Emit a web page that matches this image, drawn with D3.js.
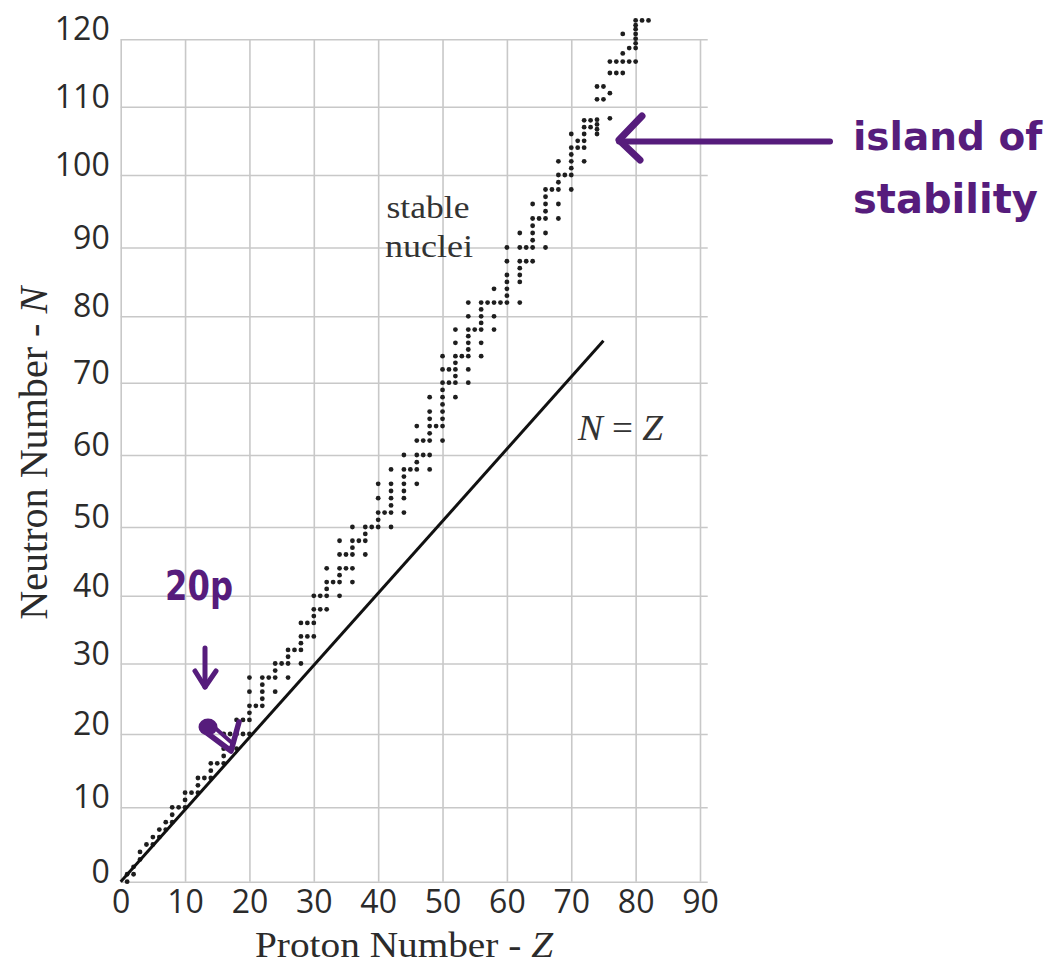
<!DOCTYPE html>
<html>
<head>
<meta charset="utf-8">
<script src="https://cdn.jsdelivr.net/npm/d3@7"></script>
<style>
html,body{margin:0;padding:0;background:#fff;}
svg{display:block;}
</style>
</head>
<body>
<svg id="chart" width="1053" height="964"></svg>
<script>
// ---------------- DATA ----------------
const xTicks = [0, 10, 20, 30, 40, 50, 60, 70, 80, 90];
const yTicks = [0, 10, 20, 30, 40, 50, 60, 70, 80, 90, 100, 110, 120];

// proton number of each element with stable nuclei
const elementZ = [1,2,3,4,5,6,7,8,9,10,11,12,13,14,15,16,17,18,19,20,
  21,22,23,24,25,26,27,28,29,30,31,32,33,34,35,36,37,38,39,40,
  41,42,44,45,46,47,48,49,50,51,52,53,54,55,56,57,58,59,60,62,
  63,64,65,66,67,68,69,70,71,72,73,74,75,76,77,78,79,80,81,82];

// neutron numbers of the stable nuclei of each element
const isotopeN = [
  [0,1],[1,2],[3,4],[5],[5,6],[6,7],[7,8],[8,9,10],[10],[10,11,12],
  [12],[12,13,14],[14],[14,15,16],[16],[16,17,18,20],[18,20],[18,20,22],[20,22],[20,22,23,24,26,28],
  [24],[24,25,26,27,28],[28],[26,28,29,30],[30],[28,30,31,32],[32],[30,32,33,34,36],[34,36],[34,36,37,38,40],
  [38,40],[38,40,41,42,44],[42],[40,42,43,44,46,48],[44,46],[42,44,46,47,48,50],[48],[46,48,49,50],[50],[50,51,52,54,56],
  [52],[50,52,53,54,55,56,58],[52,54,55,56,57,58,60],[58],[56,58,59,60,62,64],[60,62],[58,60,62,63,64,65,66,68],[64],
  [62,64,65,66,67,68,69,70,72,74],[70,72],[68,70,71,72,73,74,76,78],[74],[70,72,74,75,76,77,78,80,82],[78],
  [74,76,78,79,80,81,82],[82],[78,80,82,84],[82],[82,83,84,85,86,88,90],[82,85,86,87,88,90,92],
  [88,90],[88,90,91,92,93,94,96],[94],[90,92,94,95,96,97,98],[98],[94,96,98,99,100,102],[100],
  [98,100,101,102,103,104,106],[104,105],[102,104,105,106,107,108],[107,108],
  [106,106.7,107.4,108.1,111.1,113],[111.1,113],[108.3,112,115,116.7],[115,116.7],
  [115,116.7,117.9,120.8],[116.7,118.7],[116.7,118.7,119.4,120.1,120.8,121.5,122.1,122.8],
  [122.8],[122.8]
];

// N = Z reference line end points
const refLineZ = [0, 75];
const refLineN = [0, 76.3];

// ---------------- LAYOUT ----------------
const xRangePx = [120.7, 700];
const yGridPx = [881.7, 807.3, 734, 663.5, 595.8, 527, 455, 382.7, 316.3, 247.5, 175, 106.7, 39.3];
const gridColor = '#c8c8c8';
const inkColor = '#2b2b2b';
const purple = '#561c7c';

const svg = d3.select('#chart');
svg.append('rect').attr('width', 1053).attr('height', 964).attr('fill', '#fff');

const x = d3.scaleLinear().domain([0, 90]).range(xRangePx);
const y = d3.scaleLinear().domain(yTicks).range(yGridPx);

// vertical grid
svg.append('g')
  .attr('transform', `translate(0,${y(0)})`)
  .call(d3.axisBottom(x).tickValues(xTicks).tickSize(-(y(0) - y(120))).tickFormat(''))
  .call(g => g.select('.domain').remove())
  .call(g => g.selectAll('line').attr('stroke', gridColor).attr('stroke-width', 1.6));

// horizontal grid
svg.append('g')
  .attr('transform', `translate(${x(0)},0)`)
  .call(d3.axisLeft(y).tickValues(yTicks).tickSize(-(x(91.2) - x(0))).tickFormat(''))
  .call(g => g.select('.domain').remove())
  .call(g => g.selectAll('line').attr('stroke', gridColor).attr('stroke-width', 1.6));

// x tick labels
svg.append('g')
  .attr('transform', `translate(0,${y(0)})`)
  .call(d3.axisBottom(x).tickValues(xTicks).tickSize(0).tickPadding(9))
  .call(g => g.select('.domain').remove())
  .call(g => g.selectAll('text')
    .attr('font-family', '"Open Sans", sans-serif').attr('font-size', 32).attr('fill', inkColor));

// y tick labels (baseline sits on the grid line)
svg.append('g')
  .attr('transform', `translate(${x(0)},0)`)
  .call(d3.axisLeft(y).tickValues(yTicks).tickSize(0).tickPadding(11))
  .call(g => g.select('.domain').remove())
  .call(g => g.selectAll('text')
    .attr('dy', '0.02em')
    .attr('font-family', '"Open Sans", sans-serif').attr('font-size', 32).attr('fill', inkColor));

// stable nuclei
const nuclides = elementZ.flatMap((z, i) => isotopeN[i].map(n => ({ z, n })));
svg.append('g').selectAll('circle')
  .data(nuclides)
  .join('circle')
  .attr('cx', d => x(d.z))
  .attr('cy', d => y(d.n))
  .attr('r', 2.4)
  .attr('fill', '#1e1e1e');

// N = Z line
svg.append('path')
  .datum(refLineZ.map((z, i) => [z, refLineN[i]]))
  .attr('d', d3.line().x(d => x(d[0])).y(d => y(d[1])))
  .attr('fill', 'none')
  .attr('stroke', '#111')
  .attr('stroke-width', 3);

// axis titles
const serif = '"Liberation Serif", "Times New Roman", serif';
svg.append('text')
  .attr('transform', 'translate(46.7,453.3) rotate(-90)')
  .attr('text-anchor', 'middle')
  .attr('font-family', serif).attr('font-size', 39).attr('fill', inkColor)
  .attr('textLength', 333).attr('lengthAdjust', 'spacingAndGlyphs')
  .call(t => {
    t.append('tspan').text('Neutron Number - ');
    t.append('tspan').attr('font-style', 'italic').text('N');
  });

svg.append('text')
  .attr('x', 404).attr('y', 957)
  .attr('text-anchor', 'middle')
  .attr('font-family', serif).attr('font-size', 35).attr('fill', inkColor)
  .attr('textLength', 298).attr('lengthAdjust', 'spacingAndGlyphs')
  .call(t => {
    t.append('tspan').text('Proton Number - ');
    t.append('tspan').attr('font-style', 'italic').text('Z');
  });

// in-plot labels
svg.append('text').attr('x', 428).attr('y', 218).attr('text-anchor', 'middle')
  .attr('font-family', serif).attr('font-size', 32).attr('fill', '#333')
  .attr('textLength', 83).attr('lengthAdjust', 'spacingAndGlyphs').text('stable');
svg.append('text').attr('x', 429).attr('y', 257).attr('text-anchor', 'middle')
  .attr('font-family', serif).attr('font-size', 32).attr('fill', '#333')
  .attr('textLength', 88).attr('lengthAdjust', 'spacingAndGlyphs').text('nuclei');

svg.append('text').attr('x', 578).attr('y', 440)
  .attr('font-family', serif).attr('font-size', 36).attr('fill', '#333')
  .attr('textLength', 85).attr('lengthAdjust', 'spacingAndGlyphs')
  .call(t => {
    t.append('tspan').attr('font-style', 'italic').text('N');
    t.append('tspan').text(' = ');
    t.append('tspan').attr('font-style', 'italic').text('Z');
  });

// handwritten annotations
const hand = svg.append('g')
  .attr('stroke', purple).attr('fill', 'none')
  .attr('stroke-linecap', 'round').attr('stroke-linejoin', 'round');

// island arrow
hand.append('path').attr('d', 'M830,141.5 L619,141.5').attr('stroke-width', 6);
hand.append('path').attr('d', 'M642,116 L619,140 L640,160').attr('stroke-width', 7);

// down arrow under "20p"
hand.append('path').attr('d', 'M205,648 L205,687').attr('stroke-width', 5);
hand.append('path').attr('d', 'M195,671 L205,687 L216,671').attr('stroke-width', 5);

// blob + tick
hand.append('ellipse').attr('cx', 208).attr('cy', 727).attr('rx', 9.5).attr('ry', 8.5)
  .attr('fill', purple).attr('stroke', 'none');
hand.append('path').attr('d', 'M207,733 L231,751 L239,722').attr('stroke-width', 5.5);
hand.append('path').attr('d', 'M214,727 L231,742').attr('stroke-width', 4);

const handFont = '"DejaVu Sans", sans-serif';
svg.append('text').attr('x', 165).attr('y', 600)
  .attr('font-family', handFont).attr('font-weight', 'bold').attr('font-size', 40)
  .attr('fill', purple).attr('textLength', 68).attr('lengthAdjust', 'spacingAndGlyphs')
  .text('20p');

svg.append('text').attr('x', 853).attr('y', 150)
  .attr('font-family', handFont).attr('font-weight', 'bold').attr('font-size', 39)
  .attr('fill', purple)
  .text('island of');
svg.append('text').attr('x', 853).attr('y', 213)
  .attr('font-family', handFont).attr('font-weight', 'bold').attr('font-size', 40)
  .attr('fill', purple)
  .text('stability');
</script>
</body>
</html>
